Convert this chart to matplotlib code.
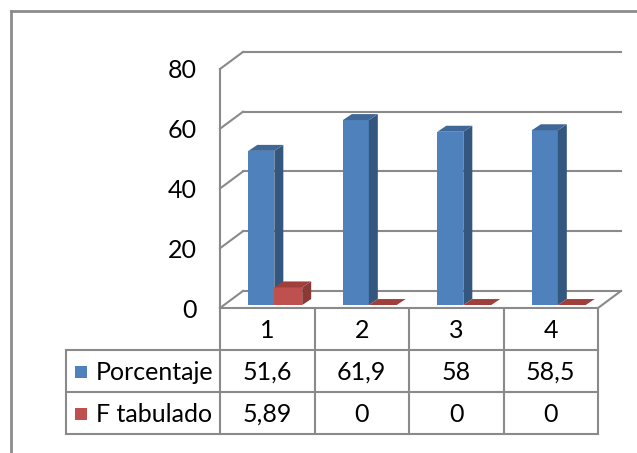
import matplotlib.pyplot as plt
from matplotlib.patches import Polygon, Rectangle
from matplotlib.lines import Line2D

categories = ["1", "2", "3", "4"]
series_names = ["Porcentaje", "F tabulado"]
porcentaje = [51.6, 61.9, 58, 58.5]
f_tabulado = [5.89, 0, 0, 0]
porcentaje_txt = ["51,6", "61,9", "58", "58,5"]
f_tabulado_txt = ["5,89", "0", "0", "0"]
yticks = [0, 20, 40, 60, 80]

plt.rcParams['font.family'] = ['Lato', 'DejaVu Sans']
W, H = 637, 453
fs = 18
fig = plt.figure(figsize=(W / 100, H / 100), dpi=100)

# plot area (front plane) in pixels
L, R, T, B = 220, 598, 69, 308
ax = fig.add_axes([L / W, 1 - B / H, (R - L) / W, (B - T) / H])
ax.set_xlim(0.5, 4.5)
ax.set_ylim(0, 80)
for s in ax.spines.values():
    s.set_visible(False)
ax.set_xticks([])
ax.set_yticks(yticks)
ax.set_yticklabels([str(v) for v in yticks], fontsize=fs)
ax.tick_params(axis='y', length=0, pad=17)

grid = '#8a8a8a'
DX, DY = 0.243, 5.7  # wall depth in data units
# back wall gridlines + left wall diagonals
for v in yticks:
    ax.add_line(Line2D([0.5 + DX, 4.5 + DX], [v + DY, v + DY], color=grid, lw=1.5, clip_on=False, zorder=1))
    ax.add_line(Line2D([0.5, 0.5 + DX], [v, v + DY], color=grid, lw=1.5, clip_on=False, zorder=1))
ax.add_line(Line2D([0.5, 0.5], [0, 80], color=grid, lw=1.5, clip_on=False, zorder=1))
ax.add_line(Line2D([0.5, 4.5], [0, 0], color=grid, lw=1.5, clip_on=False, zorder=1))
ax.add_line(Line2D([4.5, 4.5 + DX], [0, DY], color=grid, lw=1.5, clip_on=False, zorder=1))

# 3d-looking bars
ox, oy = 0.0, 1.0
bdx, bdy = 0.095, 2.0
def bar3d(x0, x1, h, front, side, top):
    y0, y1 = oy, oy + h
    x0, x1 = x0 + ox, x1 + ox
    if h > 0:
        ax.add_patch(Polygon([(x0, y0), (x1, y0), (x1, y1), (x0, y1)], closed=True,
                             fc=front, ec='none', clip_on=False, zorder=3))
        ax.add_patch(Polygon([(x1, y0), (x1 + bdx, y0 + bdy), (x1 + bdx, y1 + bdy), (x1, y1)],
                             closed=True, fc=side, ec='none', clip_on=False, zorder=3))
    ax.add_patch(Polygon([(x0, y1), (x1, y1), (x1 + bdx, y1 + bdy), (x0 + bdx, y1 + bdy)],
                         closed=True, fc=top, ec='none', clip_on=False, zorder=3))

for i in range(len(categories)):
    c = i + 1
    bar3d(c - 0.2, c + 0.075, porcentaje[i], '#4f81bd', '#34577f', '#3f6797')
    bar3d(c + 0.075, c + 0.37, f_tabulado[i], '#c0504d', '#8c3836', '#9e3f3c')

# data table and border on an overlay in pixel layout
lay = fig.add_axes([0, 0, 1, 1], zorder=-1)
lay.set_xlim(0, W)
lay.set_ylim(H, 0)
lay.axis('off')
tc = '#8a8a8a'
cols = [220, 314.5, 409, 503.5, 598]
rows = [308, 350, 392, 434]
for x in cols:
    lay.plot([x, x], [308, 434], color=tc, lw=1.5)
lay.plot([66, 66], [350, 434], color=tc, lw=1.5)
for y in rows[1:]:
    lay.plot([66, 598], [y, y], color=tc, lw=1.5)
for i, cat in enumerate(categories):
    xc = (cols[i] + cols[i + 1]) / 2
    lay.text(xc, 330, cat, ha='center', va='center', fontsize=fs)
    lay.text(xc, 372, porcentaje_txt[i], ha='center', va='center', fontsize=fs)
    lay.text(xc, 414, f_tabulado_txt[i], ha='center', va='center', fontsize=fs)
for name, y, col in zip(series_names, [372, 414], ['#4f81bd', '#c0504d']):
    lay.add_patch(Rectangle((75, y - 6), 12, 12, fc=col, ec='none'))
    lay.text(96, y, name, ha='left', va='center', fontsize=fs)

# chart border
lay.plot([11, 11], [11, H], color='#8c8c8c', lw=2)
lay.plot([11, W], [11, 11], color='#8c8c8c', lw=2)

fig.savefig('out.png', dpi=100)
